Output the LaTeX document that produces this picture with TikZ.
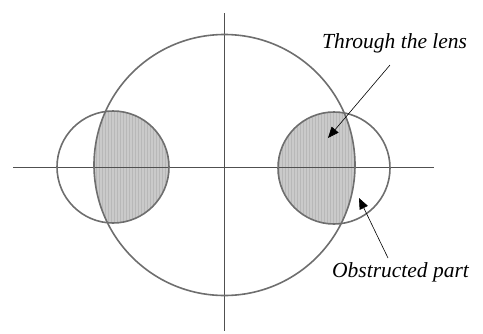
\documentclass[tikz,border=0pt]{standalone}
\usepackage{fontspec}
\setmainfont{Liberation Serif}
\usetikzlibrary{arrows.meta,patterns}
\definecolor{ring}{HTML}{6E6E6E}
\definecolor{axis}{HTML}{505050}
\definecolor{shade}{HTML}{CACACA}
\tikzset{
  ringline/.style={draw=ring, line width=1.6pt},
  axisline/.style={draw=axis, line width=0.9pt},
  shaded/.style={fill=shade},
  shadepat/.style={pattern=vertical lines, pattern color=black!28},
  pointer/.style={draw=black, line width=0.6pt, -{Triangle[length=11pt,width=9pt]}},
  label/.style={font=\fontsize{21.5}{24}\selectfont\itshape, inner sep=0pt}
}
\begin{document}
\begin{tikzpicture}[x=1pt,y=-1pt]
\useasboundingbox (0,0) rectangle (483,333);
% shaded lens parts
\begin{scope}
  \clip (113,167) circle (56);
  \fill[shaded] (224.5,165) circle (130.5);
  \fill[shadepat] (224.5,165) circle (130.5);
\end{scope}
\begin{scope}
  \clip (334,168) circle (56);
  \fill[shaded] (224.5,165) circle (130.5);
  \fill[shadepat] (224.5,165) circle (130.5);
\end{scope}
% axes
\coordinate (hl) at (13,167);
\coordinate (hr) at (434,167);
\coordinate (vt) at (224.5,13);
\coordinate (vb) at (224.5,331);
\draw[axisline] (hl) -- (hr);
\draw[axisline] (vt) -- (vb);
% circles
\draw[ringline] (224.5,165) circle (130.5);
\draw[ringline] (113,167) circle (56);
\draw[ringline] (334,168) circle (56);
% labels
\node[label, anchor=base west] (lens) at (322,48) {Through the lens};
\node[label, anchor=base west] (obst) at (332,277) {Obstructed part};
\coordinate (lensTail) at (390,65);
\coordinate (lensTip) at (328,138);
\coordinate (obstTail) at (388,258);
\coordinate (obstTip) at (359,198);
\draw[pointer] (lensTail) -- (lensTip);
\draw[pointer] (obstTail) -- (obstTip);
\end{tikzpicture}
\end{document}
